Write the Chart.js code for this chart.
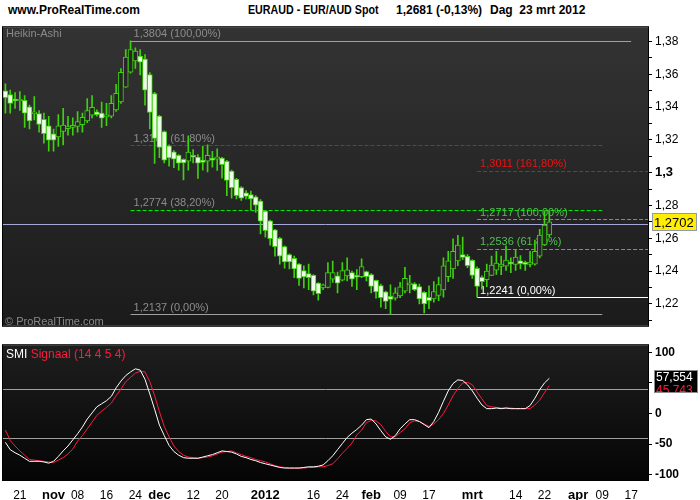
<!DOCTYPE html>
<html>
<head>
<meta charset="utf-8">
<script src="https://cdn.jsdelivr.net/npm/chart.js@4.4.0/dist/chart.umd.min.js"></script>
<style>
  body { margin: 0; width: 700px; height: 500px; overflow: hidden; position: relative; background: #fff; font-family: 'Liberation Sans', Arial, sans-serif; }
  .hd { position: absolute; top: 3px; font: bold 12px 'Liberation Sans', Arial, sans-serif; color: #000; white-space: pre; transform-origin: left top; }
  #c1 { position: absolute; left: 0; top: 17px; }
  #c2 { position: absolute; left: 0; top: 335px; }
</style>
</head>
<body>
<div class="hd" style="left:8px">www.ProRealTime.com</div>
<div class="hd" style="left:248px;transform:scaleX(0.89)">EURAUD - EUR/AUD Spot</div>
<div class="hd" style="left:396px">1,2681 (-0,13%)</div>
<div class="hd" style="left:490px">Dag  23 mrt 2012</div>
<canvas id="c1" width="700" height="319"></canvas>
<canvas id="c2" width="700" height="165"></canvas>
<script>
// Heikin-Ashi candles, EUR/AUD daily, 18 okt 2011 .. 23 mrt 2012
const haOpen = [
  1.3499,1.3476,1.3445,1.3437,1.3441,1.3402,1.3358,1.3360,1.3325,1.3286,
  1.3237,1.3218,1.3251,1.3268,1.3276,1.3282,1.3292,1.3315,1.3350,1.3371,
  1.3363,1.3340,1.3344,1.3383,1.3431,1.3522,1.3612,1.3682,1.3711,1.3692,
  1.3598,1.3482,1.3345,1.3250,1.3163,1.3127,1.3105,1.3081,1.3070,1.3097,
  1.3095,1.3076,1.3070,1.3088,1.3082,1.3089,1.3069,1.3010,1.2959,1.2909,
  1.2877,1.2866,1.2853,1.2827,1.2765,1.2706,1.2651,1.2600,1.2549,1.2500,
  1.2477,1.2442,1.2403,1.2384,1.2374,1.2326,1.2297,1.2300,1.2351,1.2370,
  1.2345,1.2370,1.2390,1.2368,1.2365,1.2397,1.2378,1.2343,1.2312,1.2273,
  1.2246,1.2235,1.2248,1.2277,1.2316,1.2322,1.2305,1.2270,1.2240,1.2230,
  1.2252,1.2285,1.2365,1.2413,1.2462,1.2500,1.2490,1.2465,1.2417,1.2361,
  1.2348,1.2374,1.2405,1.2428,1.2430,1.2450,1.2440,1.2462,1.2453,1.2440,
  1.2442,1.2490,1.2560,1.2620
];
const haHigh = [
  1.3542,1.3503,1.3489,1.3495,1.3470,1.3412,1.3464,1.3379,1.3363,1.3344,
  1.3266,1.3354,1.3392,1.3344,1.3334,1.3373,1.3363,1.3451,1.3470,1.3383,
  1.3431,1.3422,1.3470,1.3538,1.3635,1.3751,1.3804,1.3761,1.3751,1.3720,
  1.3610,1.3490,1.3350,1.3255,1.3170,1.3135,1.3110,1.3085,1.3224,1.3140,
  1.3110,1.3160,1.3170,1.3130,1.3146,1.3094,1.3075,1.3015,1.2965,1.2915,
  1.2890,1.2888,1.2860,1.2835,1.2770,1.2710,1.2655,1.2605,1.2553,1.2505,
  1.2491,1.2446,1.2432,1.2442,1.2378,1.2330,1.2320,1.2452,1.2461,1.2394,
  1.2452,1.2481,1.2400,1.2409,1.2475,1.2400,1.2385,1.2345,1.2320,1.2278,
  1.2316,1.2297,1.2331,1.2423,1.2374,1.2330,1.2320,1.2275,1.2310,1.2335,
  1.2363,1.2481,1.2520,1.2597,1.2617,1.2607,1.2500,1.2470,1.2425,1.2370,
  1.2442,1.2491,1.2520,1.2491,1.2553,1.2481,1.2530,1.2494,1.2460,1.2520,
  1.2588,1.2655,1.2765,1.2765
];
const haLow = [
  1.3363,1.3363,1.3392,1.3379,1.3276,1.3266,1.3321,1.3247,1.3179,1.3131,
  1.3131,1.3160,1.3169,1.3228,1.3228,1.3247,1.3247,1.3305,1.3334,1.3344,
  1.3276,1.3286,1.3334,1.3373,1.3422,1.3519,1.3606,1.3635,1.3596,1.3412,
  1.3267,1.3057,1.3092,1.3060,1.3040,1.3030,1.3015,1.2955,1.3015,1.3060,
  1.2965,1.3015,1.3005,1.3034,1.3014,1.2966,1.2859,1.2844,1.2840,1.2830,
  1.2840,1.2772,1.2758,1.2626,1.2607,1.2558,1.2491,1.2442,1.2417,1.2413,
  1.2359,1.2312,1.2297,1.2287,1.2254,1.2223,1.2287,1.2297,1.2331,1.2267,
  1.2339,1.2339,1.2306,1.2287,1.2360,1.2339,1.2267,1.2235,1.2180,1.2170,
  1.2137,1.2223,1.2238,1.2267,1.2267,1.2280,1.2200,1.2145,1.2170,1.2210,
  1.2220,1.2240,1.2335,1.2355,1.2432,1.2470,1.2420,1.2355,1.2241,1.2290,
  1.2305,1.2372,1.2380,1.2378,1.2403,1.2390,1.2403,1.2413,1.2403,1.2425,
  1.2436,1.2480,1.2555,1.2610
];
const haClose = [
  1.3457,1.3422,1.3437,1.3445,1.3363,1.3315,1.3369,1.3294,1.3237,1.3198,
  1.3198,1.3286,1.3290,1.3280,1.3286,1.3311,1.3338,1.3379,1.3398,1.3354,
  1.3332,1.3348,1.3422,1.3484,1.3612,1.3705,1.3751,1.3742,1.3674,1.3503,
  1.3367,1.3208,1.3154,1.3076,1.3090,1.3082,1.3058,1.3060,1.3125,1.3094,
  1.3058,1.3063,1.3106,1.3076,1.3096,1.3049,1.2952,1.2908,1.2859,1.2844,
  1.2855,1.2840,1.2801,1.2704,1.2646,1.2597,1.2549,1.2491,1.2456,1.2456,
  1.2413,1.2355,1.2364,1.2359,1.2277,1.2262,1.2316,1.2390,1.2390,1.2326,
  1.2403,1.2407,1.2351,1.2362,1.2427,1.2365,1.2306,1.2273,1.2238,1.2215,
  1.2227,1.2267,1.2304,1.2355,1.2322,1.2287,1.2230,1.2200,1.2220,1.2275,
  1.2318,1.2432,1.2462,1.2520,1.2558,1.2483,1.2432,1.2374,1.2306,1.2335,
  1.2400,1.2436,1.2448,1.2442,1.2467,1.2443,1.2485,1.2445,1.2440,1.2455,
  1.2520,1.2620,1.2680,1.2700
];

// SMI (14 4 5 4) and its signal line
const smi = [
  -47,-59,-64,-68,-73,-78,-78,-78,-79,-81,
  -78,-70,-61,-53,-43,-33,-22,-9,1,11,
  16,21,28,42,53,62,68,73,71,56,
  32,7,-19,-36,-52,-62,-68,-72,-73,-73,
  -73,-71,-69,-67,-64,-61,-62,-63,-66,-70,
  -72,-75,-77,-80,-82,-84,-86,-88,-89,-89,
  -89,-89,-88,-87,-87,-86,-84,-77,-69,-59,
  -49,-39,-32,-26,-19,-10,-9,-17,-28,-38,
  -42,-36,-25,-17,-10,-10,-13,-18,-23,-13,
  2,20,37,49,55,54,47,37,25,14,
  8,8,9,8,9,8,8,8,8,13,
  25,39,50,57.554
];
const smiSignal = [
  -27,-44,-53,-61,-68,-75,-76,-77,-78,-79,
  -80,-76,-72,-66,-58,-45,-36,-25,-14,-3,
  4,10,17,29,40,52,59,66,69,68,
  52,29,3,-21,-38,-53,-62,-68,-71,-72,
  -73,-72,-71,-69,-66,-63,-62,-61,-64,-67,
  -70,-72,-75,-77,-79,-82,-85,-87,-88,-89,
  -89,-89,-89,-88,-88,-87,-87,-85,-82,-74,
  -65,-57,-48,-35,-27,-15,-11,-12,-18,-29,
  -38,-38,-31,-25,-15,-12,-13,-17,-21,-17,
  -10,0,14,29,41,50,51,47,35,24,
  13,11,10,9,9,9,8,8,8,8,
  14,22,34,45.743
];

// Fibonacci retracements
const fib1Values = [1.3804, 1.3167, 1.2774, 1.2137];
const fib1Labels = ['1,3804 (100,00%)', '1,3167 (61,80%)', '1,2774 (38,20%)', '1,2137 (0,00%)'];
const fib2Values = [1.3011, 1.2717, 1.2536, 1.2241];
const fib2Labels = ['1,3011 (161,80%)', '1,2717 (100,00%)', '1,2536 (61,80%)', '1,2241 (0,00%)'];
const lastPrice = 1.2686;
const lastPriceLabel = '1,2702';
const smiLevels = [40, -40];

// x axis tick labels
const xTickDates = ['2011-10-21','2011-11-01','2011-11-08','2011-11-16','2011-11-24','2011-12-01','2011-12-12','2011-12-20',
  '2012-01-02','2012-01-16','2012-01-24','2012-02-01','2012-02-09','2012-02-17','2012-03-01','2012-03-14','2012-03-22',
  '2012-04-02','2012-04-09','2012-04-17'];
const xTickText = ['21','nov','08','16','24','dec','12','20','2012','16','24','feb','09','17','mrt','14','22','apr','09','17'];
const monthTicks = ['nov','dec','2012','feb','mrt','apr'];

// trading days (weekdays), running on past the last bar
const tradingDays = [];
for (let d = new Date(Date.UTC(2011, 9, 18)); tradingDays.length < 134; d.setUTCDate(d.getUTCDate() + 1)) {
  const wd = d.getUTCDay();
  if (wd === 0 || wd === 6) continue;
  tradingDays.push(d.toISOString().slice(0, 10));
}
const tickMap = {};
xTickDates.forEach((d, i) => tickMap[d] = xTickText[i]);

const priceTicks = [];
for (let k = 121; k <= 138; k++) priceTicks.push(k / 100);

const panelBg = {
  id: 'panelBg',
  beforeDraw(chart, args, opts) {
    const { ctx, chartArea: a } = chart;
    const g = ctx.createLinearGradient(0, a.top, 0, a.bottom);
    g.addColorStop(0, opts.top);
    g.addColorStop(1, opts.bottom);
    ctx.save();
    ctx.fillStyle = g;
    ctx.fillRect(a.left, a.top, a.right - a.left, a.bottom - a.top);
    ctx.strokeStyle = '#000';
    ctx.lineWidth = 1;
    ctx.strokeRect(a.left - 0.5, a.top - 0.5, a.right - a.left + 1, a.bottom - a.top + 1);
    ctx.restore();
  }
};

function hline(ctx, x1, x2, y, color, dash) {
  ctx.beginPath();
  ctx.setLineDash(dash || []);
  ctx.strokeStyle = color;
  ctx.lineWidth = 1;
  y = Math.round(y) + 0.5;
  ctx.moveTo(x1, y);
  ctx.lineTo(x2, y);
  ctx.stroke();
  ctx.setLineDash([]);
}

const fibPlugin = {
  id: 'fibPlugin',
  beforeDatasetsDraw(chart) {
    const { ctx, chartArea: a, scales: { x, y } } = chart;
    ctx.save();
    ctx.font = '11px "Liberation Sans", Arial, sans-serif';
    ctx.textBaseline = 'bottom';
    // first set, from the top at 23 nov
    const s1 = x.getPixelForValue(26);
    const s1end = x.getPixelForValue(124);
    const c1 = ['#a0a0a0', '#ff0000', '#00ee00', '#a0a0a0'];
    const d1 = [[], [4, 2], [4, 2], []];
    fib1Values.forEach((v, i) => {
      const py = y.getPixelForValue(v);
      hline(ctx, s1, i === 0 ? x.getPixelForValue(130) : s1end, py, c1[i], d1[i]);
      ctx.fillStyle = '#8c8c8c';
      ctx.fillText(fib1Labels[i], s1 + 3, py - 1);
    });
    // second set, from the low at 2 mrt
    const s2 = x.getPixelForValue(98);
    const c2 = ['#ff0000', '#3cc03c', '#3cc03c', '#ffffff'];
    const t2 = ['#ee1111', '#50c050', '#50c050', '#ffffff'];
    const d2 = [[4, 2], [4, 2], [4, 2], []];
    fib2Values.forEach((v, i) => {
      const py = y.getPixelForValue(v);
      hline(ctx, s2, a.right, py, c2[i], d2[i]);
      ctx.fillStyle = t2[i];
      ctx.fillText(fib2Labels[i], s2 + 3, py - 1);
    });
    hline(ctx, a.left, a.right, y.getPixelForValue(lastPrice), '#a8a8d8');
    // panel captions
    ctx.fillStyle = '#8a8a8a';
    ctx.textBaseline = 'top';
    ctx.fillText('Heikin-Ashi', a.left + 3, a.top + 1);
    ctx.textBaseline = 'bottom';
    ctx.fillText('\u00a9 ProRealTime.com', a.left + 2, a.bottom + 2);
    ctx.restore();
  },
  afterDraw(chart) {
    const { ctx, chartArea: a, scales: { y } } = chart;
    const py = Math.round(y.getPixelForValue(1.2702));
    ctx.save();
    ctx.fillStyle = '#ffee00';
    ctx.strokeStyle = '#8f9ab0';
    ctx.lineWidth = 1;
    ctx.fillRect(a.right + 4, py - 9, 45, 18);
    ctx.strokeRect(a.right + 4.5, py - 8.5, 44, 17);
    ctx.fillStyle = '#000';
    ctx.font = '13px "Liberation Sans", Arial, sans-serif';
    ctx.textBaseline = 'middle';
    ctx.fillText(lastPriceLabel, a.right + 6, py + 1);
    ctx.restore();
  }
};

const smiPlugin = {
  id: 'smiPlugin',
  beforeDatasetsDraw(chart) {
    const { ctx, chartArea: a, scales: { y } } = chart;
    ctx.save();
    smiLevels.forEach(v => hline(ctx, a.left, a.right, y.getPixelForValue(v), '#a0a0a0'));
    ctx.font = '12px "Liberation Sans", Arial, sans-serif';
    ctx.textBaseline = 'top';
    ctx.fillStyle = '#fff';
    ctx.fillText('SMI', a.left + 3, a.top + 3);
    ctx.fillStyle = '#ff1a3c';
    ctx.fillText('Signaal (14 4 5 4)', a.left + 3 + ctx.measureText('SMI ').width, a.top + 3);
    ctx.restore();
  },
  afterDraw(chart) {
    const { ctx, chartArea: a, scales: { y } } = chart;
    const py = Math.round(y.getPixelForValue(smi[smi.length - 1]));
    const bx = a.right + 6, by = py - 8, bw = 44, bh = 23;
    ctx.save();
    ctx.fillStyle = '#000';
    ctx.fillRect(bx, by, bw, bh);
    ctx.strokeStyle = '#8c8c8c';
    ctx.strokeRect(bx + 0.5, by + 0.5, bw - 1, bh - 1);
    ctx.beginPath();
    ctx.rect(bx + 1, by + 1, bw - 2, bh - 2);
    ctx.clip();
    ctx.font = '12px "Liberation Sans", Arial, sans-serif';
    ctx.textBaseline = 'top';
    ctx.fillStyle = '#fff';
    ctx.fillText('57,554', bx + 2, by + 2);
    ctx.fillStyle = '#ff1a3c';
    ctx.fillText('45,743', bx + 2, by + 15);
    ctx.restore();
  }
};

new Chart(document.getElementById('c1'), {
  type: 'bar',
  data: {
    labels: tradingDays,
    datasets: [
      {
        data: haLow.map((l, i) => [l, haHigh[i]]),
        backgroundColor: '#3fd00e',
        barThickness: 1,
        grouped: false,
        order: 2
      },
      {
        data: haOpen.map((o, i) => [o, haClose[i]]),
        backgroundColor: c => haClose[c.dataIndex] >= haOpen[c.dataIndex] ? '#262626' : '#ecfde6',
        borderColor: '#3fd00e',
        borderWidth: 1,
        borderSkipped: false,
        barThickness: 5,
        minBarLength: 2,
        grouped: false,
        order: 1
      }
    ]
  },
  options: {
    responsive: false,
    animation: false,
    layout: { padding: { top: 3, bottom: 3, left: 3, right: 0 } },
    plugins: {
      legend: { display: false },
      tooltip: { enabled: false },
      panelBg: { top: '#333333', bottom: '#1b1b1b' }
    },
    scales: {
      x: { display: false, offset: true },
      y: {
        position: 'right',
        min: 1.2066,
        max: 1.3887,
        afterFit(s) { s.width = 52; },
        afterBuildTicks(s) { s.ticks = priceTicks.map(v => ({ value: v })); },
        grid: { drawOnChartArea: false, tickLength: 4, color: '#000' },
        border: { color: '#000' },
        ticks: {
          autoSkip: false,
          color: '#000',
          padding: 3,
          font: c => (c.tick && Math.abs(c.tick.value - 1.3) < 1e-6)
            ? { size: 13, weight: 'bold', family: '"Liberation Sans", Arial' }
            : { size: 12, family: '"Liberation Sans", Arial' },
          callback: v => {
            const k = Math.round(v * 100);
            if (k % 2) return '';
            return k === 130 ? '1,3' : v.toFixed(2).replace('.', ',');
          }
        }
      }
    }
  },
  plugins: [panelBg, fibPlugin]
});

new Chart(document.getElementById('c2'), {
  type: 'line',
  data: {
    labels: tradingDays,
    datasets: [
      { data: smiSignal, borderColor: '#ff1a3c', borderWidth: 1, pointRadius: 0, order: 2 },
      { data: smi, borderColor: '#ffffff', borderWidth: 1, pointRadius: 0, order: 1 }
    ]
  },
  options: {
    responsive: false,
    animation: false,
    layout: { padding: { top: 3, bottom: 0, left: 3, right: 0 } },
    plugins: {
      legend: { display: false },
      tooltip: { enabled: false },
      panelBg: { top: '#1e1e1e', bottom: '#050505' }
    },
    scales: {
      x: {
        offset: true,
        afterFit(s) { s.height = 20; },
        grid: { display: false },
        border: { display: false },
        ticks: {
          autoSkip: false,
          maxRotation: 0,
          minRotation: 0,
          padding: 0,
          color: '#000',
          callback: v => tickMap[tradingDays[v]] || '',
          font: c => {
            const t = c.tick ? tickMap[tradingDays[c.tick.value]] : '';
            return monthTicks.includes(t)
              ? { size: 13, weight: 'bold', family: '"Liberation Sans", Arial' }
              : { size: 12, family: '"Liberation Sans", Arial' };
          }
        }
      },
      y: {
        position: 'right',
        min: -108.5,
        max: 111.6,
        afterFit(s) { s.width = 52; },
        afterBuildTicks(s) { s.ticks = [100, 50, 0, -50, -100].map(v => ({ value: v })); },
        grid: { drawOnChartArea: false, tickLength: 4, color: '#000' },
        border: { color: '#000' },
        ticks: {
          autoSkip: false,
          color: '#000',
          padding: 3,
          font: { size: 12, weight: 'bold', family: '"Liberation Sans", Arial' }
        }
      }
    }
  },
  plugins: [panelBg, smiPlugin]
});
</script>
</body>
</html>
